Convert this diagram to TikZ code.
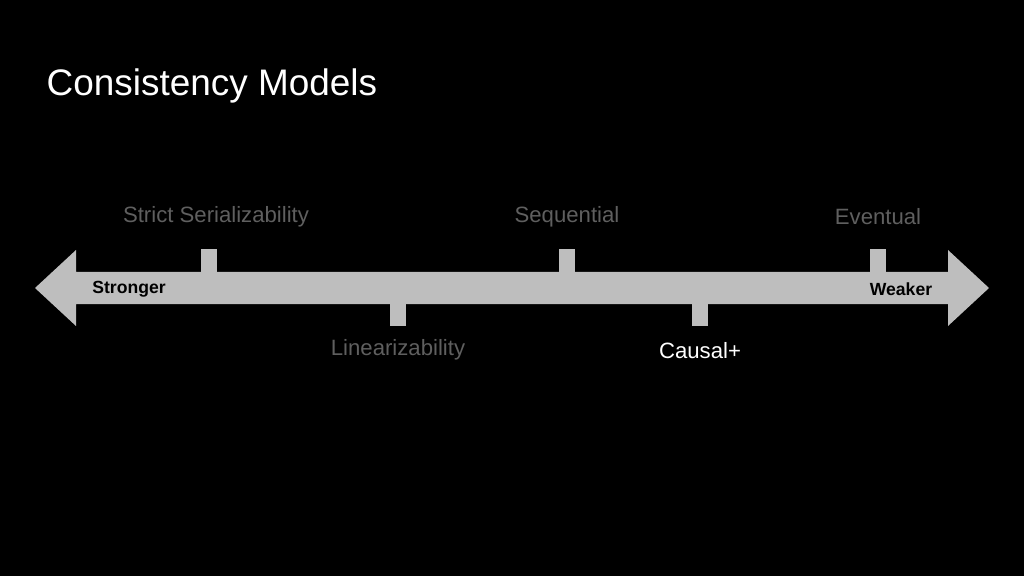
\documentclass[tikz,border=0pt]{standalone}
\usepackage{fontspec}
\setmainfont{Liberation Sans}
\usetikzlibrary{positioning}
\definecolor{bar}{RGB}{190,190,190}
\definecolor{dim}{RGB}{95,95,95}
\begin{document}
\begin{tikzpicture}[x=0.01cm,y=-0.01cm]
  \tikzstyle{tick}=[rectangle,fill=bar,minimum width=0.16cm,minimum height=0.23cm,inner sep=0pt]
  \tikzstyle{model}=[text=dim,font=\fontsize{6.3pt}{7pt}\selectfont,inner sep=0pt]
  \tikzstyle{end}=[text=black,font=\fontsize{5pt}{6pt}\selectfont\bfseries,inner sep=0pt]

  \fill[black] (0,0) rectangle (1024,576);
  \node[anchor=west,text=white,font=\fontsize{10.5pt}{12pt}\selectfont,inner sep=0pt] (title) at (46,86) {Consistency Models};

  % the scale
  \fill[bar] (35,288) -- (76,250) -- (76,272) -- (948,272) -- (948,250) -- (989,288)
    -- (948,326) -- (948,304) -- (76,304) -- (76,326) -- cycle;
  \node[end] (strong) at (129,289) {Stronger};
  \node[end] (weak)   at (901,289) {Weaker};

  % ticks above
  \node[tick] (ss) at (209,261) {};
  \node[tick] (sq) at (567,261) {};
  \node[tick] (ev) at (878,261) {};
  % ticks below
  \node[tick] (li) at (398,314) {};
  \node[tick] (ca) at (700,314) {};

  \node[model] (ssl) at (216,217) {Strict Serializability};
  \node[model] (sql) at (567,217) {Sequential};
  \node[model] (evl) at (878,217) {Eventual};
  \node[model] (lil) at (398,350) {Linearizability};
  \node[model,text=white] (cal) at (700,351) {Causal+};
\end{tikzpicture}
\end{document}
